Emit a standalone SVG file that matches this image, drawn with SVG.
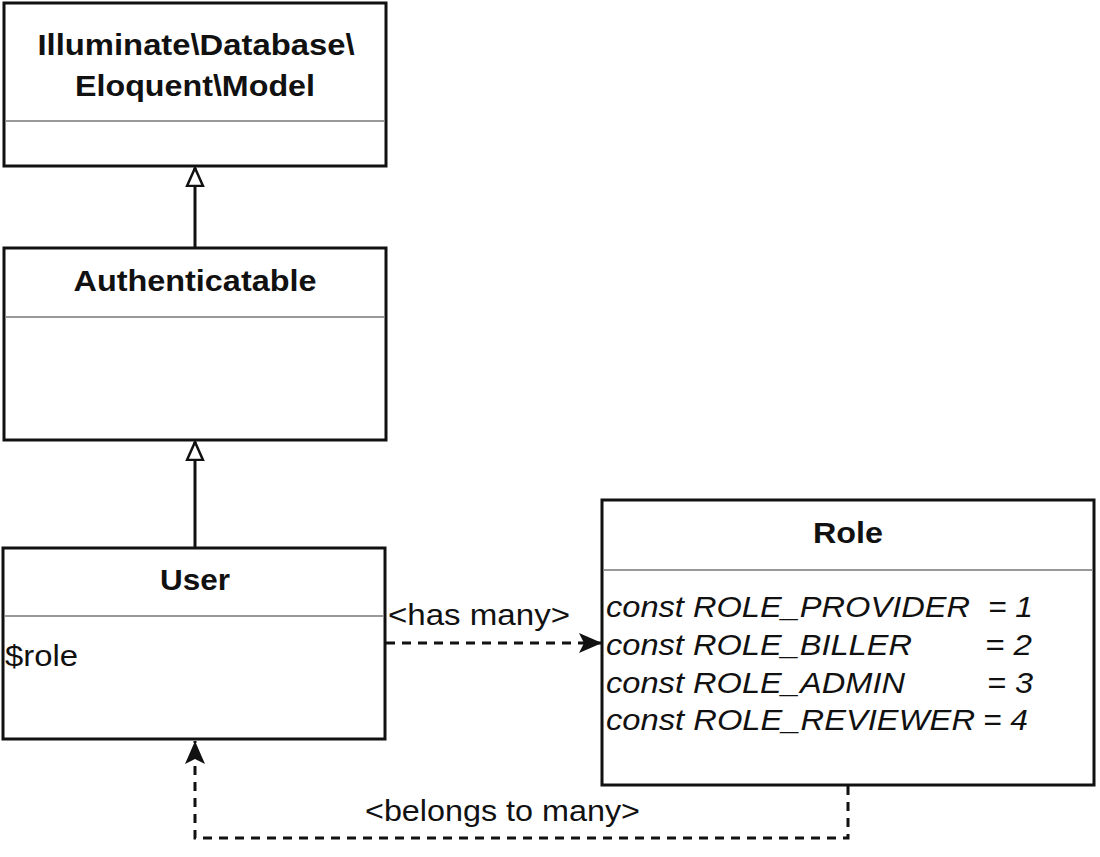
<svg xmlns="http://www.w3.org/2000/svg" width="1100" height="857" viewBox="0 0 1100 857">
<defs>
<style>
.box{fill:#fff;stroke:#111;stroke-width:3}
.div{stroke:#999;stroke-width:2}
.title{font-family:"Liberation Sans",Arial,sans-serif;font-weight:bold;font-size:29px;fill:#111;text-anchor:middle}
.txt{font-family:"Liberation Sans",Arial,sans-serif;font-size:29px;fill:#111}
.it{font-family:"Liberation Sans",Arial,sans-serif;font-size:29px;font-style:italic;fill:#111}
.solid{stroke:#111;stroke-width:3;fill:none}
.dash{stroke:#111;stroke-width:3;fill:none;stroke-dasharray:9 7}
</style>
<marker id="tri" markerWidth="20" markerHeight="20" viewBox="0 0 20 20" refX="19" refY="10" orient="auto" markerUnits="userSpaceOnUse">
<path d="M1,2 L19,10 L1,18 Z" fill="#fff" stroke="#111" stroke-width="2.5"/>
</marker>
<marker id="arr" markerWidth="24" markerHeight="24" viewBox="0 0 24 24" refX="23" refY="12" orient="auto" markerUnits="userSpaceOnUse">
<path d="M0,2 L23,12 L0,22 L5,12 Z" fill="#111"/>
</marker>
</defs>
<rect width="1100" height="857" fill="#fff"/>
<g id="model">
<rect class="box" x="4" y="3" width="382" height="163"/>
<line class="div" x1="6" y1="121" x2="384" y2="121"/>
<text class="title" x="196" y="55" textLength="317" lengthAdjust="spacingAndGlyphs">Illuminate\Database\</text>
<text class="title" x="195" y="96" textLength="240" lengthAdjust="spacingAndGlyphs">Eloquent\Model</text>
</g>
<g id="authenticatable">
<rect class="box" x="4" y="248" width="382" height="192"/>
<line class="div" x1="6" y1="317" x2="384" y2="317"/>
<text class="title" x="195" y="291" textLength="243" lengthAdjust="spacingAndGlyphs">Authenticatable</text>
</g>
<g id="user">
<rect class="box" x="3" y="548" width="382" height="191"/>
<line class="div" x1="5" y1="616" x2="383" y2="616"/>
<text class="title" x="195" y="590" textLength="70" lengthAdjust="spacingAndGlyphs">User</text>
<text class="txt" x="5" y="666" textLength="73" lengthAdjust="spacingAndGlyphs">$role</text>
</g>
<g id="role">
<rect class="box" x="602" y="500" width="492" height="285"/>
<line class="div" x1="604" y1="570" x2="1092" y2="570"/>
<text class="title" x="848" y="543" textLength="70" lengthAdjust="spacingAndGlyphs">Role</text>
<text class="it" x="606" y="617" textLength="364" lengthAdjust="spacingAndGlyphs">const ROLE_PROVIDER</text><text class="it" x="988" y="617" textLength="45" lengthAdjust="spacingAndGlyphs">= 1</text>
<text class="it" x="606" y="655" textLength="306" lengthAdjust="spacingAndGlyphs">const ROLE_BILLER</text><text class="it" x="985" y="655" textLength="47" lengthAdjust="spacingAndGlyphs">= 2</text>
<text class="it" x="606" y="693" textLength="299" lengthAdjust="spacingAndGlyphs">const ROLE_ADMIN</text><text class="it" x="987" y="693" textLength="46" lengthAdjust="spacingAndGlyphs">= 3</text>
<text class="it" x="606" y="730" textLength="369" lengthAdjust="spacingAndGlyphs">const ROLE_REVIEWER</text><text class="it" x="983" y="730" textLength="45" lengthAdjust="spacingAndGlyphs">= 4</text>
</g>
<g id="connectors">
<line class="solid" x1="195" y1="248" x2="195" y2="168" marker-end="url(#tri)"/>
<line class="solid" x1="195" y1="548" x2="195" y2="442" marker-end="url(#tri)"/>
<line class="dash" x1="386" y1="643" x2="602" y2="643" marker-end="url(#arr)"/>
<polyline class="dash" points="848,786 848,838 195,838 195,741" marker-end="url(#arr)"/>
<text class="txt" x="388" y="625" textLength="182" lengthAdjust="spacingAndGlyphs">&lt;has many&gt;</text>
<text class="txt" x="365" y="821" textLength="275" lengthAdjust="spacingAndGlyphs">&lt;belongs to many&gt;</text>
</g>
</svg>
